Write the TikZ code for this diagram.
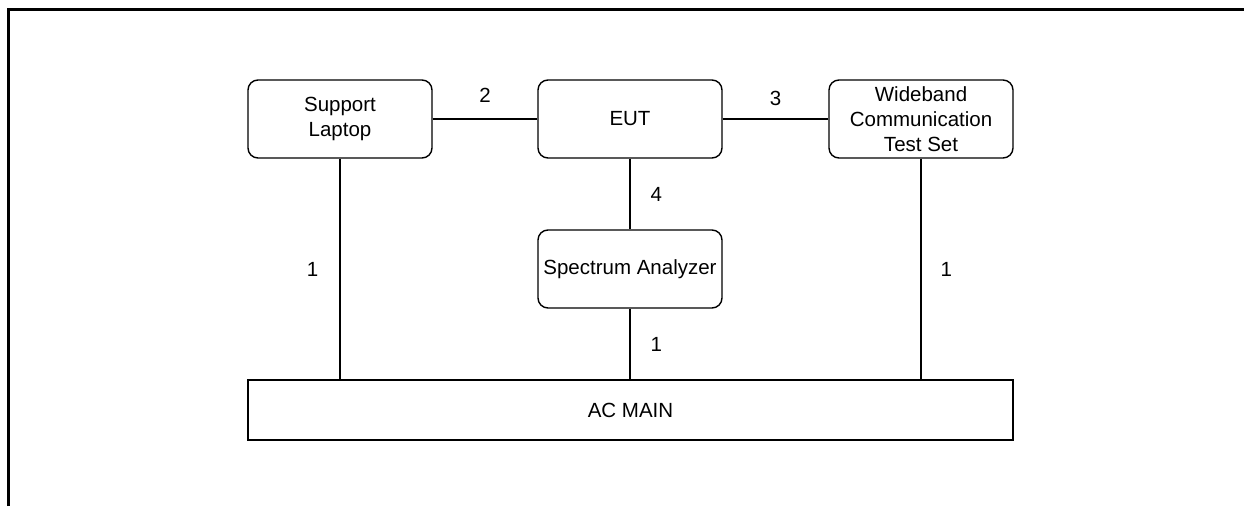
\documentclass[tikz,border=0pt]{standalone}
\usepackage{fontspec}
\setmainfont{Liberation Sans}
\usetikzlibrary{positioning}
\newcommand{\textsize}{\fontsize{20.5}{25}\selectfont}
\tikzset{
    common/.style={draw, line width=1.4pt, minimum width=184pt, minimum height=78pt, align=center, inner sep=0pt, font=\textsize},
    device/.style={common, rounded corners=10pt},
    mains/.style={common, minimum width=765pt, minimum height=60pt},
    cable/.style={line width=1.4pt},
    cablenum/.style={inner sep=0pt, font=\textsize},
}

\begin{document}
\begin{tikzpicture}[x=1pt, y=-1pt]
            \useasboundingbox (0,0) rectangle (1244,506);
            % partial frame
            \draw[line width=3pt] (8,506) -- (8,9.5) -- (1244,9.5);

            \node[device] (laptop) at (340,119) {Support\\Laptop};
            \node[device] (eut) at (630,119) {EUT};
            \node[device] (wideband) at (921,119) {Wideband\\Communication\\Test Set};
            \node[device] (analyzer) at (630,269) {Spectrum Analyzer};
            \node[mains] (ac-main) at (630.5,410) {AC MAIN};

            \draw[cable] (laptop) -- node[cablenum, above=16pt] (num-laptop-eut) {2} (eut);
            \draw[cable] (eut) -- node[cablenum, above=13pt] (num-eut-wideband) {3} (wideband);
            \draw[cable] (eut) -- node[cablenum, right=20pt] (num-eut-analyzer) {4} (analyzer);

            \draw[cable] (laptop.south) -- node[cablenum, left=21pt] (num-laptop-ac) {1} (laptop.south |- ac-main.north);
            \draw[cable] (analyzer.south) -- node[cablenum, right=20pt] (num-analyzer-ac) {1} (analyzer.south |- ac-main.north);
            \draw[cable] (wideband.south) -- node[cablenum, right=19pt] (num-wideband-ac) {1} (wideband.south |- ac-main.north);
          \end{tikzpicture}
\end{document}
